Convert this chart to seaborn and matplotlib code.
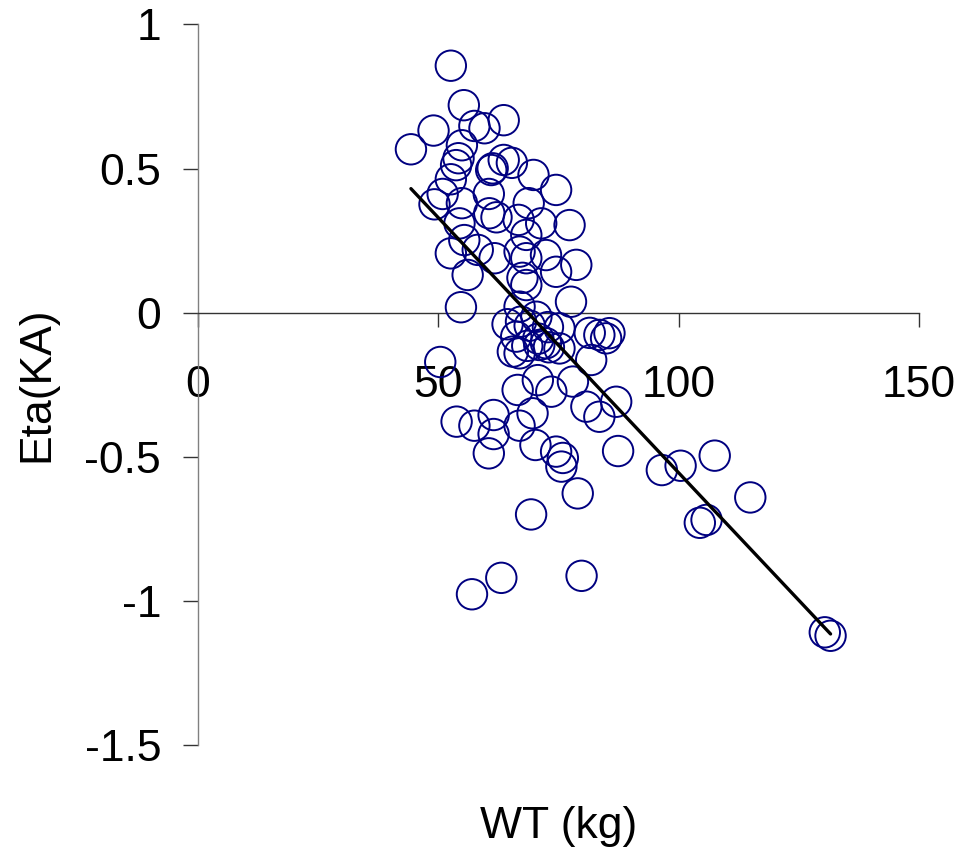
import numpy as np
import pandas as pd
import matplotlib
matplotlib.use("Agg")
import matplotlib.pyplot as plt
import seaborn as sns

wt = [52.6, 55.3, 49.0, 57.5, 59.6, 63.6, 44.3, 54.9, 54.2, 53.7,
      61.3, 63.6, 65.3, 69.8, 74.5, 52.6, 50.9, 49.2, 54.9, 60.5,
      60.6, 62.1, 68.8, 66.7, 71.4, 77.3, 54.4, 52.6, 55.4, 58.2,
      61.7, 56.1, 66.9, 68.3, 72.4, 74.5, 78.7, 68.3, 77.6, 54.7,
      66.9, 70.4, 75.2, 66.2, 66.9, 71.0, 81.5, 83.5, 84.9, 85.6,
      81.8, 50.4, 67.2, 72.4, 66.5, 70.7, 73.5, 78.0, 80.8, 83.5,
      87.0, 53.8, 57.5, 61.5, 61.5, 60.5, 66.9, 69.6, 70.2, 74.5,
      75.9, 75.6, 79.0, 69.3, 87.4, 63.1, 57.0, 79.8, 65.5, 96.5,
      100.4, 107.5, 114.9, 104.4, 105.8, 130.4, 131.6, 68.3, 67.5, 75.2,
      61.0, 64.4, 69.0, 68.5, 72.8, 70.8, 73.0]
eta_ka = [0.857, 0.720, 0.632, 0.648, 0.640, 0.668, 0.567, 0.581, 0.536, 0.512,
          0.501, 0.530, 0.520, 0.478, 0.426, 0.463, 0.412, 0.376, 0.380, 0.412,
          0.345, 0.331, 0.380, 0.322, 0.310, 0.304, 0.310, 0.206, 0.252, 0.218,
          0.189, 0.131, 0.212, 0.189, 0.200, 0.142, 0.166, 0.096, 0.038, 0.019,
          0.021, -0.014, -0.054, -0.083, -0.141, -0.112, -0.070, -0.077, -0.089, -0.071,
          -0.164, -0.171, -0.031, -0.106, -0.268, -0.234, -0.274, -0.239, -0.326, -0.361,
          -0.309, -0.378, -0.392, -0.355, -0.421, -0.488, -0.392, -0.349, -0.459, -0.482,
          -0.504, -0.534, -0.627, -0.700, -0.480, -0.920, -0.977, -0.913, -0.135, -0.546,
          -0.531, -0.496, -0.641, -0.729, -0.719, -1.109, -1.121, 0.270, 0.121, -0.124,
          0.495, -0.040, -0.045, -0.115, -0.050, -0.090, -0.120]

x_ticks = [0, 50, 100, 150]
y_ticks = [-1.5, -1, -0.5, 0, 0.5, 1]
y_tick_labels = ["-1.5", "-1", "-0.5", "0", "0.5", "1"]

df = pd.DataFrame({"WT (kg)": wt, "Eta(KA)": eta_ka})

sns.set_style("white")
plt.rcParams['font.family'] = ['Liberation Sans', 'DejaVu Sans']

fig = plt.figure(figsize=(9.62, 8.48), dpi=100)
ax = fig.add_axes([198 / 962, 1 - 745 / 848, (919 - 198) / 962, (745 - 24.5) / 848])

sns.scatterplot(data=df, x="WT (kg)", y="Eta(KA)", ax=ax, s=480,
                facecolor="none", edgecolor="#000080", linewidth=1.4,
                marker="o", zorder=3)

# least-squares trend line over the data range
coef = np.polyfit(df["WT (kg)"], df["Eta(KA)"], 1)
xl = np.array([df["WT (kg)"].min(), df["WT (kg)"].max()])
sns.lineplot(x=xl, y=np.polyval(coef, xl), ax=ax, color="black",
             linewidth=2.4, zorder=4)

ax.set_xlim(0, 150)
ax.set_ylim(-1.5, 1)
ax.set_xticks(x_ticks)
ax.set_xticklabels([str(t) for t in x_ticks])
ax.set_yticks(y_ticks)
ax.set_yticklabels(y_tick_labels)

for s in ["top", "right"]:
    ax.spines[s].set_visible(False)
ax.spines["bottom"].set_position(("data", 0))
ax.spines["bottom"].set_color("#333333")
ax.spines["left"].set_color("#808080")
ax.spines["bottom"].set_linewidth(1.0)
ax.spines["left"].set_linewidth(1.0)

ax.tick_params(axis="x", direction="out", length=10, width=1.0, color="#333333",
               pad=28, labelsize=32, bottom=True, labelcolor="black")
ax.tick_params(axis="y", direction="out", length=10.5, width=1.0, color="#333333",
               pad=16, labelsize=32, left=True, labelcolor="black")

ax.set_xlabel("WT (kg)", fontsize=32, color="black")
ax.set_ylabel("Eta(KA)", fontsize=32, color="black")
ax.xaxis.set_label_coords(0.5, -0.085)
ax.yaxis.set_label_coords(-0.195, 0.5)
ax.grid(False)

fig.savefig("out.png", dpi=100, facecolor="white")
